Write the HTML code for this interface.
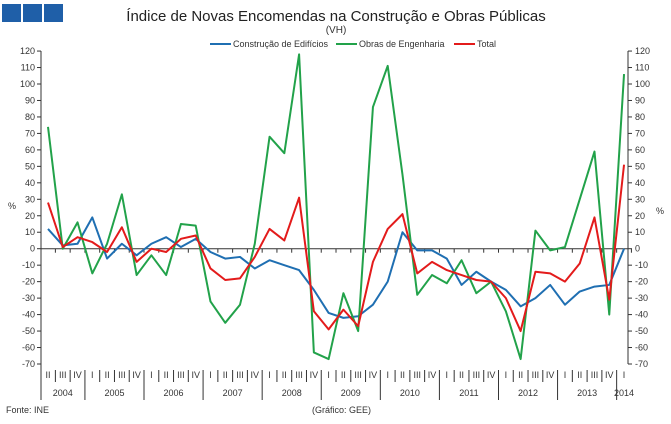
<!DOCTYPE html>
<html><head><meta charset="utf-8"><style>
body{margin:0;background:#fff;font-family:"Liberation Sans",sans-serif;}
svg text{font-family:"Liberation Sans",sans-serif;}
</style></head><body>
<svg id="c" width="671" height="419">
<rect x="2" y="4" width="19" height="18" fill="#1f5fa8"/>
<rect x="23" y="4" width="19" height="18" fill="#1f5fa8"/>
<rect x="44" y="4" width="19" height="18" fill="#1f5fa8"/>
<text x="336" y="21" font-size="15" text-anchor="middle" fill="#222">Índice de Novas Encomendas na Construção e Obras Públicas</text>
<text x="336" y="33" font-size="10" text-anchor="middle" fill="#333">(VH)</text>
<text x="8" y="209" font-size="9" fill="#333">%</text>
<text x="656" y="214" font-size="9" fill="#333">%</text>
<text x="6" y="413" font-size="9" fill="#333">Fonte: INE</text>
<text x="312" y="413" font-size="9" fill="#333">(Gráfico: GEE)</text>
<g id="axes"></g><g id="series"></g><g id="legend"></g>
</svg>
<script>
const years=["2004","2005","2006","2007","2008","2009","2010","2011","2012","2013","2014"];
const quarters=["I","II","III","IV"];
const yTicks=[120,110,100,90,80,70,60,50,40,30,20,10,0,-10,-20,-30,-40,-50,-60,-70];
const seriesNames=["Construção de Edifícios","Obras de Engenharia","Total"];
const edificios=[12,2,3,19,-6,3,-4,3,7,1,6,-2,-6,-5,-12,-7,-10,-13,-25,-39,-42,-41,-34,-20,10,-1,-1,-6,-22,-14,-20,-25,-35,-30,-22,-34,-26,-23,-22,0];
const engenharia=[74,0,16,-15,3,33,-16,-4,-16,15,14,-32,-45,-34,3,68,58,118,-63,-67,-27,-50,86,111,45,-28,-16,-21,-7,-27,-20,-38,-67,11,-1,1,30,59,-40,106];
const total=[28,1,7,4,-2,13,-8,0,-2,6,8,-12,-19,-18,-5,12,5,31,-38,-49,-37,-47,-8,12,21,-15,-8,-13,-16,-19,-20,-30,-50,-14,-15,-20,-9,19,-31,51];
const colors=["#1f6fb2","#22a24a","#e31b1b"];
const NS="http://www.w3.org/2000/svg";
const x0=48,dx=14.77,y0=248.7,k=1.647,L=41,R=628;
const X=i=>x0+i*dx, Y=v=>y0-v*k;
function mk(t,a,p){const e=document.createElementNS(NS,t);for(const n in a)e.setAttribute(n,a[n]);p.appendChild(e);return e;}
const ax=document.getElementById('axes');
mk('line',{x1:L,y1:Y(120),x2:L,y2:400,stroke:'#333'},ax);
mk('line',{x1:R,y1:Y(120),x2:R,y2:Y(-70),stroke:'#333'},ax);
yTicks.forEach(v=>{
 mk('line',{x1:L-4,y1:Y(v),x2:L,y2:Y(v),stroke:'#333'},ax);
 mk('line',{x1:R,y1:Y(v),x2:R+4,y2:Y(v),stroke:'#333'},ax);
 let t=mk('text',{x:L-6,y:Y(v)+3,'font-size':9,'text-anchor':'end',fill:'#333'},ax);t.textContent=v;
 
 let t2=mk('text',{x:R+7,y:Y(v)+3,'font-size':9,fill:'#333'},ax);t2.textContent=v;
 
});
mk('line',{x1:L,y1:y0,x2:R,y2:y0,stroke:'#333'},ax);
const n=edificios.length;
for(let i=0;i<n;i++){
 const q=(i+1)%4;
 mk('line',{x1:X(i)+dx/2,y1:y0,x2:X(i)+dx/2,y2:y0+4,stroke:'#333'},ax);
 let t=mk('text',{x:X(i),y:378,'font-size':9,'text-anchor':'middle',fill:'#333'},ax);t.textContent=quarters[q];
 
 if(i<n-1){const sep=X(i)+dx/2;mk('line',{x1:sep,y1:370,x2:sep,y2:q==3?400:382,stroke:'#333'},ax);}
}
years.forEach((y,j)=>{
 const s=Math.max(0,j*4-1), e=Math.min(n-1,j*4+2);
 let t=mk('text',{x:j==10?X(n-1):(X(s)+X(e))/2,y:396,'font-size':9,'text-anchor':'middle',fill:'#333'},ax);t.textContent=y;
 
});
const sg=document.getElementById('series');
[edificios,engenharia,total].forEach((d,s)=>{
 const p=mk('polyline',{points:d.map((v,i)=>X(i)+','+Y(v)).join(' '),fill:'none',stroke:colors[s],'stroke-width':2,'stroke-linejoin':'round'},sg);
 
 
});
const lg=document.getElementById('legend');
const lx=[210,336,454];
seriesNames.forEach((nm,s)=>{
 const g=mk('g',{},lg);
 
 
 mk('line',{x1:lx[s],y1:44,x2:lx[s]+21,y2:44,stroke:colors[s],'stroke-width':2},g);
 const t=mk('text',{x:lx[s]+23,y:47,'font-size':9,fill:'#333'},g);t.textContent=nm;
});
</script>
</body></html>
